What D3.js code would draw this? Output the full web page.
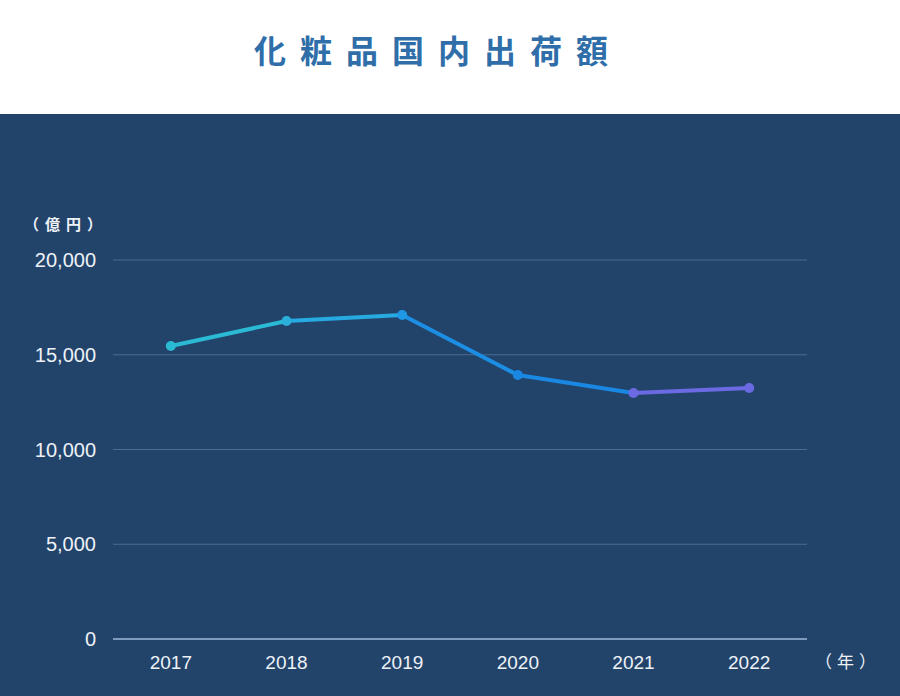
<!DOCTYPE html>
<html>
<head>
<meta charset="utf-8">
<script src="https://cdn.jsdelivr.net/npm/d3@7"></script>
<style>
  body { margin: 0; background: #fff; }
  svg { display: block; }
</style>
</head>
<body>
<svg></svg>
<script>
const years = ["2017", "2018", "2019", "2020", "2021", "2022"];
const values = [15460, 16780, 17100, 13930, 12980, 13250];
const segmentColors = ["#2bbad3", "#27a9e2", "#1c8fe4", "#1a88e2", "#6c6ae2"];
const pointColors = ["#2bbad3", "#2bb0dc", "#1f98e6", "#1a88e2", "#6c6ae2", "#6c6ae2"];
const yTicks = [0, 5000, 10000, 15000, 20000];

const W = 900, H = 696;
const panelTop = 114;
const plot = { left: 113, right: 807, top: 260, bottom: 639 };

const svg = d3.select("svg").attr("width", W).attr("height", H);

svg.append("rect")
  .attr("x", 0).attr("y", panelTop)
  .attr("width", W).attr("height", H - panelTop)
  .attr("fill", "#22446b");

// title, letter-spaced; shift by half the trailing space to keep it centred
svg.append("text")
  .attr("x", 438).attr("y", 63)
  .attr("text-anchor", "middle")
  .attr("fill", "#2f6ea9")
  .attr("font-family", "'Noto Sans CJK JP', sans-serif")
  .attr("font-weight", "bold")
  .attr("font-size", 32)
  .attr("letter-spacing", "14px")
  .text("化粧品国内出荷額");

const x = d3.scalePoint().domain(years).range([plot.left, plot.right]).padding(0.5);
const y = d3.scaleLinear().domain([0, 20000]).range([plot.bottom, plot.top]);

// grid
svg.append("g")
  .selectAll("line")
  .data(yTicks)
  .join("line")
  .attr("x1", plot.left).attr("x2", plot.right)
  .attr("y1", d => y(d)).attr("y2", d => y(d))
  .attr("stroke", d => d === 0 ? "#7f9bbd" : "#4b6b91")
  .attr("stroke-width", d => d === 0 ? 2 : 1);

// y labels
svg.append("g")
  .selectAll("text")
  .data(yTicks)
  .join("text")
  .attr("x", 96).attr("y", d => y(d))
  .attr("dy", "0.35em")
  .attr("text-anchor", "end")
  .attr("fill", "#eef2f7")
  .attr("font-family", "'Liberation Sans', Arial, sans-serif")
  .attr("font-size", 20)
  .text(d => d3.format(",")(d));

svg.append("text")
  .attr("x", 24).attr("y", 230)
  .attr("fill", "#eef2f7")
  .attr("font-family", "'Noto Sans CJK JP', sans-serif")
  .attr("font-weight", "bold")
  .attr("font-size", 15)
  .attr("letter-spacing", "6px")
  .text("（億円）");

// x labels
svg.append("g")
  .selectAll("text")
  .data(years)
  .join("text")
  .attr("x", d => x(d)).attr("y", 669)
  .attr("text-anchor", "middle")
  .attr("fill", "#eef2f7")
  .attr("font-family", "'Liberation Sans', Arial, sans-serif")
  .attr("font-size", 19)
  .text(d => d);

svg.append("text")
  .attr("x", 815).attr("y", 668)
  .attr("fill", "#eef2f7")
  .attr("font-family", "'Noto Sans CJK JP', sans-serif")
  .attr("font-size", 17)
  .attr("letter-spacing", "5px")
  .text("（年）");

// line segments, one colour each
const segs = d3.range(years.length - 1).map(i => ({ i }));
svg.append("g")
  .selectAll("line")
  .data(segs)
  .join("line")
  .attr("x1", d => x(years[d.i])).attr("y1", d => y(values[d.i]))
  .attr("x2", d => x(years[d.i + 1])).attr("y2", d => y(values[d.i + 1]))
  .attr("stroke", d => segmentColors[d.i])
  .attr("stroke-width", 4)
  .attr("stroke-linecap", "round");

svg.append("g")
  .selectAll("circle")
  .data(years)
  .join("circle")
  .attr("cx", d => x(d))
  .attr("cy", (d, i) => y(values[i]))
  .attr("r", 5)
  .attr("fill", (d, i) => pointColors[i]);
</script>
</body>
</html>
